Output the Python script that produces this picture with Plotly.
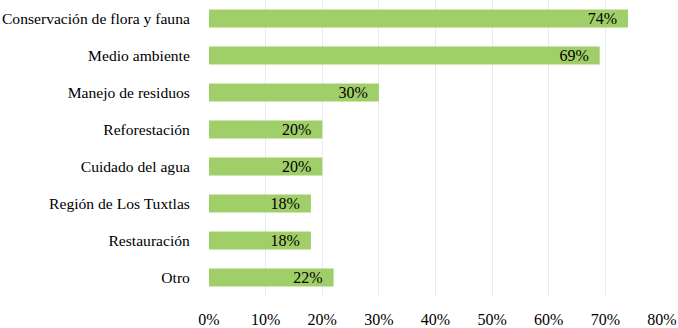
import plotly.graph_objects as go

categories = ["Conservación de flora y fauna", "Medio ambiente", "Manejo de residuos",
              "Reforestación", "Cuidado del agua", "Región de Los Tuxtlas",
              "Restauración", "Otro"]
values = [74, 69, 30, 20, 20, 18, 18, 22]
tick_vals = [0, 10, 20, 30, 40, 50, 60, 70, 80]
tick_text = [f"{v}%" for v in tick_vals]

fig = go.Figure(go.Bar(
    y=categories, x=values, orientation="h",
    marker=dict(color="#A0CF69", line=dict(width=0)),
    width=0.48,
    text=[f"{v}%\u2002" for v in values], textposition="inside", insidetextanchor="end",
    constraintext="none",
    textfont=dict(color="black", size=16, family="Liberation Serif"),
    cliponaxis=False,
))
fig.update_layout(
    width=678, height=328,
    margin=dict(l=209, r=16, t=0, b=32, autoexpand=False),
    paper_bgcolor="white", plot_bgcolor="white",
    font=dict(family="Liberation Serif", size=16, color="black"),
    showlegend=False,
    bargap=0.52,
)
fig.update_xaxes(range=[0, 80], tickvals=tick_vals, ticktext=tick_text,
                 showgrid=True, gridcolor="#E6EBF1", gridwidth=1,
                 zeroline=False, showline=False, automargin=False,
                 ticks="outside", ticklen=9, tickcolor="rgba(0,0,0,0)")
fig.update_yaxes(autorange="reversed", showgrid=False, showline=False, automargin=False,
                 tickfont=dict(size=15.6),
                 ticks="outside", ticklen=15, tickcolor="rgba(0,0,0,0)")
fig.write_html("out.html", config={"displayModeBar": False},
               post_script="document.body.style.margin='0';")
